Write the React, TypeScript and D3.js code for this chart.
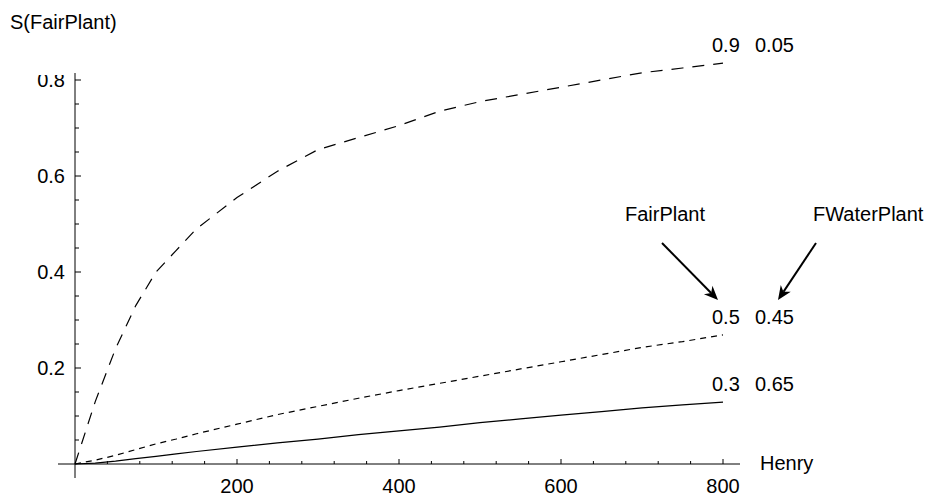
import React from "react";
import * as d3 from "d3";

const xs = [0, 25, 50, 75, 100, 125, 150, 200, 250, 300, 350, 400, 450, 500, 550, 600, 650, 700, 750, 800];
const seriesHigh = [0, 0.13, 0.24, 0.33, 0.40, 0.445, 0.49, 0.555, 0.61, 0.655, 0.68, 0.705, 0.735, 0.755, 0.77, 0.785, 0.80, 0.815, 0.825, 0.835];
const seriesMid = [0, 0.008, 0.018, 0.03, 0.042, 0.052, 0.063, 0.083, 0.103, 0.12, 0.137, 0.153, 0.168, 0.183, 0.198, 0.213, 0.228, 0.243, 0.255, 0.269];
const seriesLow = [0, 0.002, 0.006, 0.011, 0.016, 0.021, 0.026, 0.035, 0.044, 0.052, 0.061, 0.069, 0.077, 0.086, 0.094, 0.102, 0.109, 0.117, 0.123, 0.129];
const seriesLabels = [["0.9", "0.05"], ["0.5", "0.45"], ["0.3", "0.65"]];
const xMajorTicks = [200, 400, 600, 800];
const yMajorTicks = [0.2, 0.4, 0.6, 0.8];
const yTitle = "S(FairPlant)";
const xTitle = "Henry";
const arrowLabels = ["FairPlant", "FWaterPlant"];

const FONT = "'Liberation Sans', Arial, sans-serif";

export default function App() {
  const x = d3.scaleLinear().domain([0, 800]).range([75, 723]);
  const y = d3.scaleLinear().domain([0, 0.8]).range([464, 80]);
  const line = d3
    .line<number>()
    .x((_, i) => x(xs[i]))
    .y((d) => y(d));

  const xMinor = d3.range(40, 801, 40).filter((v) => !xMajorTicks.includes(v));
  const yMinor = d3.range(1, 17).map((i) => i * 0.05).filter((v) => !yMajorTicks.some((m) => Math.abs(m - v) < 1e-9));

  const series = [
    { data: seriesHigh, dash: "12,9", labels: seriesLabels[0] },
    { data: seriesMid, dash: "6,5", labels: seriesLabels[1] },
    { data: seriesLow, dash: "none", labels: seriesLabels[2] },
  ];

  const fs = 20;

  const arrow = (x1: number, y1: number, x2: number, y2: number, key: string) => {
    const ang = Math.atan2(y2 - y1, x2 - x1);
    const hl = 14;
    const hw = 6;
    const bx = x2 - hl * Math.cos(ang);
    const by = y2 - hl * Math.sin(ang);
    const nx = -Math.sin(ang);
    const ny = Math.cos(ang);
    const ix = x2 - hl * 0.7 * Math.cos(ang);
    const iy = y2 - hl * 0.7 * Math.sin(ang);
    return (
      <g key={key}>
        <line x1={x1} y1={y1} x2={ix} y2={iy} stroke="#000" strokeWidth={2} />
        <path
          d={`M${x2},${y2} L${bx + nx * hw},${by + ny * hw} L${ix},${iy} L${bx - nx * hw},${by - ny * hw} Z`}
          fill="#000"
        />
      </g>
    );
  };

  const endX = x(800);

  return (
    <svg
      width={934}
      height={495}
      style={{ position: "absolute", left: 0, top: 0, background: "#fff" }}
      fontFamily={FONT}
    >
      <defs>
        <clipPath id="plotClip">
          <rect x={0} y={75} width={934} height={420} />
        </clipPath>
      </defs>
      <rect width={934} height={495} fill="#fff" />
      {/* axes */}
      <line x1={58} y1={y(0)} x2={740} y2={y(0)} stroke="#000" strokeWidth={1} />
      <line x1={x(0)} y1={73} x2={x(0)} y2={478} stroke="#000" strokeWidth={1} />
      {xMajorTicks.map((t) => (
        <g key={"xm" + t}>
          <line x1={x(t)} x2={x(t)} y1={y(0)} y2={y(0) - 5} stroke="#000" />
          <text x={x(t)} y={493} textAnchor="middle" fontSize={fs}>
            {t}
          </text>
        </g>
      ))}
      {xMinor.map((t) => (
        <line key={"xn" + t} x1={x(t)} x2={x(t)} y1={y(0)} y2={y(0) - 3} stroke="#000" />
      ))}
      <g clipPath="url(#plotClip)">
        {yMajorTicks.map((t) => (
          <g key={"ym" + t}>
            <line x1={x(0)} x2={x(0) + 6} y1={y(t)} y2={y(t)} stroke="#000" />
            <text x={65} y={y(t)} dy="0.35em" textAnchor="end" fontSize={fs}>
              {t.toFixed(1)}
            </text>
          </g>
        ))}
      </g>
      {yMinor.map((t) => (
        <line key={"yn" + t} x1={x(0)} x2={x(0) + 4} y1={y(t)} y2={y(t)} stroke="#000" />
      ))}
      <text x={10} y={29} fontSize={fs}>
        {yTitle}
      </text>
      <text x={760} y={470} fontSize={fs}>
        {xTitle}
      </text>
      {/* series */}
      {series.map((s, i) => {
        const last = s.data[s.data.length - 1];
        return (
          <g key={"s" + i}>
            <path
              d={line(s.data) || ""}
              fill="none"
              stroke="#000"
              strokeWidth={1.2}
              strokeDasharray={s.dash}
            />
            <text x={endX - 11} y={y(last) - 11} fontSize={fs}>
              {s.labels[0]}
            </text>
            <text x={endX + 32} y={y(last) - 11} fontSize={fs}>
              {s.labels[1]}
            </text>
          </g>
        );
      })}
      {/* annotations */}
      <text x={625} y={221} fontSize={fs}>
        {arrowLabels[0]}
      </text>
      <text x={813} y={221} fontSize={fs}>
        {arrowLabels[1]}
      </text>
      {arrow(662, 243, 718, 300, "a1")}
      {arrow(816, 243, 778, 300, "a2")}
    </svg>
  );
}
